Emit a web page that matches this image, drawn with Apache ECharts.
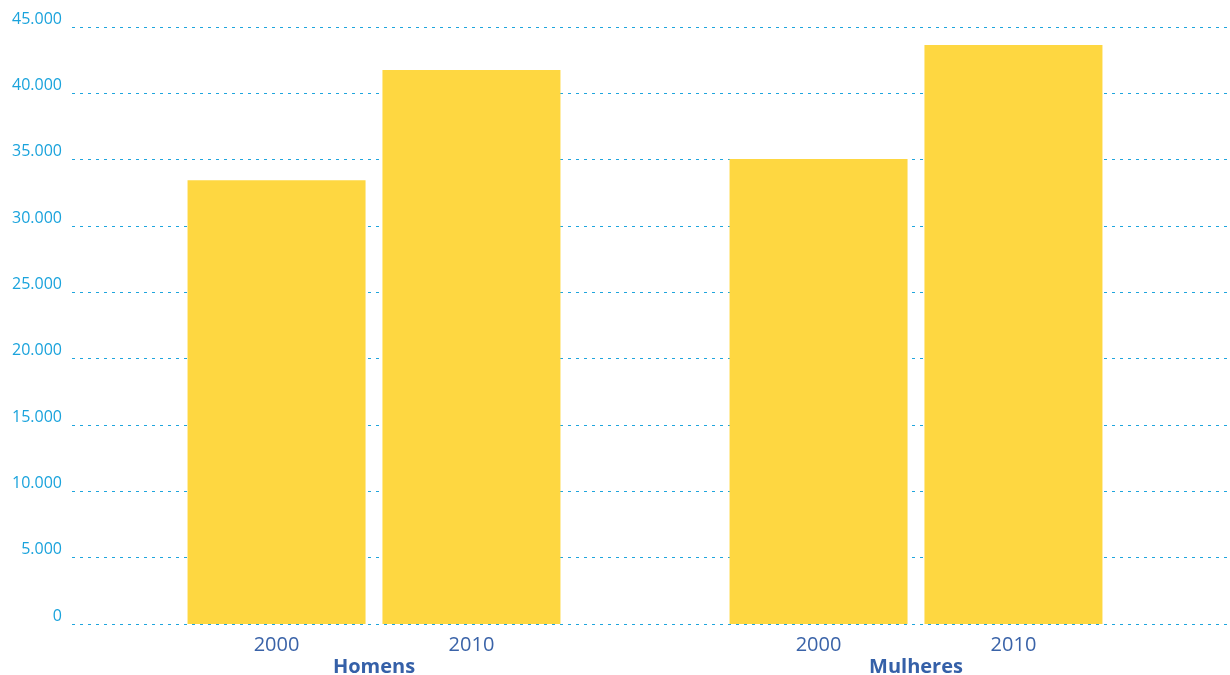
<!DOCTYPE html>
<html>
<head>
<meta charset="utf-8">
<script src="https://cdn.jsdelivr.net/npm/echarts@6/dist/echarts.min.js"></script>
<style>
html,body{margin:0;padding:0;background:#fff;}
#chart{width:1230px;height:675px;}
</style>
</head>
<body>
<div id="chart"></div>
<script>
const categories = ['Homens', 'Mulheres'];
const seriesNames = ['2000', '2010'];
const values2000 = [33450, 35050];
const values2010 = [41750, 43650];
const yMin = 0, yMax = 45000, yStep = 5000;

function fmt(v) {
  return String(v).replace(/\B(?=(\d{3})+(?!\d))/g, '.');
}

const font = '"Open Sans", "DejaVu Sans", sans-serif';
const chart = echarts.init(document.getElementById('chart'));
const yellow = '#FED741';
const barLabel = {
  show: true, position: ['50%', '100%'], align: 'center', verticalAlign: 'top',
  offset: [0, 11],
  color: '#3A63A8', fontSize: 20, fontFamily: font, textBorderWidth: 0,
  formatter: p => p.seriesName
};
chart.setOption({
  animation: false,
  grid: [
    {left: 72, right: 0, top: 27, bottom: 51, outerBoundsMode: 'none', containLabel: false},
    {left: 103, right: 43, top: 27, bottom: 51, outerBoundsMode: 'none', containLabel: false}
  ],
  xAxis: [
    {gridIndex: 0, type: 'value', show: false, min: 0, max: 1},
    {gridIndex: 1, type: 'category', data: categories,
     axisLine: {show: false}, axisTick: {show: false},
     axisLabel: {margin: 33, color: '#3560A8', fontSize: 20, fontWeight: 'bold', fontFamily: font}}
  ],
  yAxis: [
    {gridIndex: 0, type: 'value', min: yMin, max: yMax, interval: yStep,
     axisLine: {show: false}, axisTick: {show: false},
     axisLabel: {formatter: fmt, color: '#1AA3DC', fontSize: 16, fontFamily: font, margin: 10, verticalAlign: 'bottom'},
     splitLine: {lineStyle: {color: '#1FA5DD', type: [3, 5], width: 1.2}}},
    {gridIndex: 1, type: 'value', min: yMin, max: yMax, interval: yStep, show: false,
     splitLine: {show: false}}
  ],
  series: [
    {name: seriesNames[0], type: 'bar', xAxisIndex: 1, yAxisIndex: 1, data: values2000,
     barWidth: 178, barGap: '9.5%', itemStyle: {color: yellow}, label: barLabel, z: 3},
    {name: seriesNames[1], type: 'bar', xAxisIndex: 1, yAxisIndex: 1, data: values2010,
     barWidth: 178, barGap: '9.5%', itemStyle: {color: yellow}, label: barLabel, z: 3}
  ]
});
</script>
</body>
</html>
